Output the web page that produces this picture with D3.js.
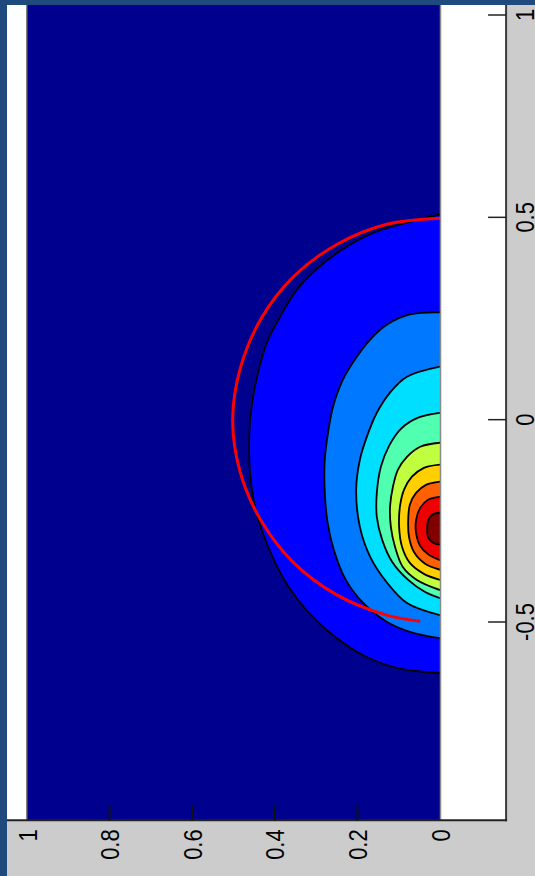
<!DOCTYPE html>
<html>
<head>
<meta charset="utf-8">
<script src="https://cdn.jsdelivr.net/npm/d3@7/dist/d3.min.js"></script>
<style>
  html, body { margin: 0; padding: 0; background: #cccccc; overflow: hidden; }
  svg { display: block; }
</style>
</head>
<body>
<div id="chart"></div>
<script>
// Contour lines, as [x, y] pairs.
// The figure is turned on its side: x runs up the page, y runs from right (0) to left (1).
const level1 = [[0.507, 0], [0.493, 0.056], [0.465, 0.153], [0.428, 0.225], [0.379, 0.291],
  [0.322, 0.346], [0.255, 0.387], [0.191, 0.419], [0.106, 0.443], [0.017, 0.458],
  [-0.050, 0.462], [-0.131, 0.460], [-0.215, 0.448], [-0.280, 0.429], [-0.347, 0.402],
  [-0.411, 0.368], [-0.470, 0.324], [-0.527, 0.266], [-0.582, 0.186], [-0.614, 0.102],
  [-0.626, 0]];
const level2 = [[0.265, 0], [0.260, 0.073], [0.235, 0.128], [0.198, 0.169], [0.156, 0.201],
  [0.099, 0.235], [0.032, 0.259], [-0.032, 0.271], [-0.099, 0.279], [-0.180, 0.279],
  [-0.255, 0.272], [-0.322, 0.257], [-0.396, 0.228], [-0.453, 0.186], [-0.500, 0.128],
  [-0.527, 0.065], [-0.540, 0]];
const level3 = [[0.131, 0], [0.106, 0.080], [0.067, 0.121], [0.017, 0.153], [-0.042, 0.177],
  [-0.099, 0.194], [-0.173, 0.203], [-0.265, 0.194], [-0.339, 0.169], [-0.403, 0.128],
  [-0.453, 0.080], [-0.483, 0]];
const level4 = [[0.017, 0], [0.005, 0.053], [-0.022, 0.094], [-0.064, 0.123], [-0.116, 0.143],
  [-0.181, 0.153], [-0.240, 0.153], [-0.297, 0.140], [-0.351, 0.116], [-0.396, 0.077],
  [-0.426, 0.036], [-0.441, 0]];
const level5 = [[-0.057, 0], [-0.067, 0.048], [-0.092, 0.080], [-0.124, 0.102], [-0.166, 0.114],
  [-0.215, 0.121], [-0.265, 0.119], [-0.314, 0.109], [-0.364, 0.090], [-0.396, 0.056],
  [-0.421, 0]];
const level6 = [[-0.111, 0], [-0.119, 0.039], [-0.141, 0.068], [-0.173, 0.087], [-0.215, 0.097],
  [-0.265, 0.099], [-0.314, 0.092], [-0.354, 0.073], [-0.381, 0.039], [-0.396, 0]];
const level7 = [[-0.153, 0], [-0.161, 0.034], [-0.181, 0.058], [-0.210, 0.073], [-0.248, 0.077],
  [-0.290, 0.075], [-0.327, 0.063], [-0.356, 0.036], [-0.371, 0]];
const level8 = [[-0.191, 0], [-0.198, 0.029], [-0.218, 0.048], [-0.248, 0.058], [-0.280, 0.058],
  [-0.312, 0.048], [-0.334, 0.027], [-0.347, 0]];
const level9 = [[-0.230, 0], [-0.235, 0.019], [-0.250, 0.029], [-0.270, 0.031], [-0.290, 0.029],
  [-0.304, 0.017], [-0.309, 0]];

const levels = [level1, level2, level3, level4, level5, level6, level7, level8, level9];
// jet colours, lowest band first
const lowColor = "#00008f";
const bandColors = ["#0000ff", "#0078ff", "#00dfff", "#50ffaf", "#bfff40",
  "#ffcf00", "#ff6000", "#ef0000", "#800000"];

// the red curve
const redCurve = [[0.498, 0], [0.483, 0.129], [0.433, 0.250], [0.354, 0.354], [0.250, 0.433],
  [0.129, 0.483], [0, 0.502], [-0.129, 0.484], [-0.250, 0.433], [-0.354, 0.354],
  [-0.433, 0.250], [-0.483, 0.129], [-0.498, 0.048]];

// ticks and extents
const xTicks = [-0.5, 0, 0.5, 1];
const yTicks = [0, 0.2, 0.4, 0.6, 0.8, 1];
const imageX = [-0.99, 1.06];
const imageY = [0, 1];
const axesX = [-0.99, 1.06];
const axesY = [-0.16, 1.05];

const W = 535, H = 876;

const svg = d3.select("#chart").append("svg")
    .attr("width", W)
    .attr("height", H);

// x goes up the page, y goes right to left
const vScale = d3.scaleLinear().domain([-0.5, 1]).range([622, 15]);
const hScale = d3.scaleLinear().domain([0, 1]).range([440, 27]);

// figure background
svg.append("rect").attr("width", W).attr("height", H).attr("fill", "#cccccc");

// axes background
svg.append("rect")
    .attr("x", hScale(axesY[1]))
    .attr("y", vScale(axesX[1]))
    .attr("width", hScale(axesY[0]) - hScale(axesY[1]))
    .attr("height", vScale(axesX[0]) - vScale(axesX[1]))
    .attr("fill", "#ffffff");

// image area
const ix0 = hScale(imageY[1]), ix1 = hScale(imageY[0]);
const iy0 = vScale(imageX[1]), iy1 = vScale(imageX[0]);

svg.append("defs").append("clipPath").attr("id", "clip")
    .append("rect")
    .attr("x", ix0).attr("y", iy0)
    .attr("width", ix1 - ix0).attr("height", iy1 - iy0);

const plot = svg.append("g").attr("clip-path", "url(#clip)");

plot.append("rect")
    .attr("x", ix0).attr("y", iy0)
    .attr("width", ix1 - ix0).attr("height", iy1 - iy0)
    .attr("fill", lowColor);

const line = d3.line()
    .x(d => hScale(d[1]))
    .y(d => vScale(d[0]))
    .curve(d3.curveCatmullRom);

// filled bands, outer first
plot.selectAll(".band")
    .data(levels)
    .enter()
    .append("path")
    .attr("class", "band")
    .attr("d", d => line(d) + "Z")
    .attr("fill", (d, i) => bandColors[i]);

// contour lines
plot.selectAll(".cline")
    .data(levels)
    .enter()
    .append("path")
    .attr("class", "cline")
    .attr("d", d => line(d))
    .attr("fill", "none")
    .attr("stroke", "#000")
    .attr("stroke-width", 1.8);

// red curve
plot.append("path")
    .attr("d", line(redCurve))
    .attr("fill", "none")
    .attr("stroke", "#ff0000")
    .attr("stroke-width", 3);

// image edges
svg.append("line")
    .attr("x1", ix0).attr("x2", ix0).attr("y1", iy0).attr("y2", iy1)
    .attr("stroke", "#555").attr("stroke-width", 1.5);
svg.append("line")
    .attr("x1", ix1 + 0.5).attr("x2", ix1 + 0.5).attr("y1", iy0).attr("y2", iy1)
    .attr("stroke", "#8a8a8a").attr("stroke-width", 1.5);

// axis frame lines (x axis on the right, y axis at the bottom)
const frameRight = hScale(axesY[0]);
const frameBottom = vScale(axesX[0]);

svg.append("line")
    .attr("x1", frameRight).attr("x2", frameRight)
    .attr("y1", 0).attr("y2", frameBottom + 1)
    .attr("stroke", "#3a3a3a").attr("stroke-width", 2);
svg.append("line")
    .attr("x1", hScale(axesY[1])).attr("x2", frameRight + 1)
    .attr("y1", frameBottom).attr("y2", frameBottom)
    .attr("stroke", "#222").attr("stroke-width", 2);

// x ticks
svg.selectAll(".xtick")
    .data(xTicks)
    .enter()
    .append("line")
    .attr("x1", frameRight - 18).attr("x2", frameRight)
    .attr("y1", d => vScale(d)).attr("y2", d => vScale(d))
    .attr("stroke", "#222").attr("stroke-width", 1.5);

svg.selectAll(".xlabel")
    .data(xTicks)
    .enter()
    .append("text")
    .attr("transform", d => `translate(${frameRight + 28},${vScale(d)}) rotate(-90) scale(1,1.2)`)
    .attr("text-anchor", "middle")
    .style("font-family", "'Liberation Sans', Arial, sans-serif")
    .style("font-size", "22px")
    .attr("fill", "#000")
    .text(d => String(d));

// y ticks
svg.selectAll(".ytick")
    .data(yTicks.filter(d => d > 0 && d < 1))
    .enter()
    .append("line")
    .attr("x1", d => hScale(d)).attr("x2", d => hScale(d))
    .attr("y1", frameBottom - 15).attr("y2", frameBottom)
    .attr("stroke", "#111").attr("stroke-width", 2);

svg.selectAll(".ylabel")
    .data(yTicks)
    .enter()
    .append("text")
    .attr("transform", d => `translate(${hScale(d) + 9.5},${frameBottom + 9}) rotate(-90) scale(1,1.2)`)
    .attr("text-anchor", "end")
    .style("font-family", "'Liberation Sans', Arial, sans-serif")
    .style("font-size", "22px")
    .attr("fill", "#000")
    .text(d => String(d));

// window border
svg.append("rect").attr("x", 0).attr("y", 0).attr("width", W).attr("height", 5).attr("fill", "#1f4a7e");
svg.append("rect").attr("x", 0).attr("y", 0).attr("width", 7).attr("height", H).attr("fill", "#1f4a7e");
</script>
</body>
</html>
